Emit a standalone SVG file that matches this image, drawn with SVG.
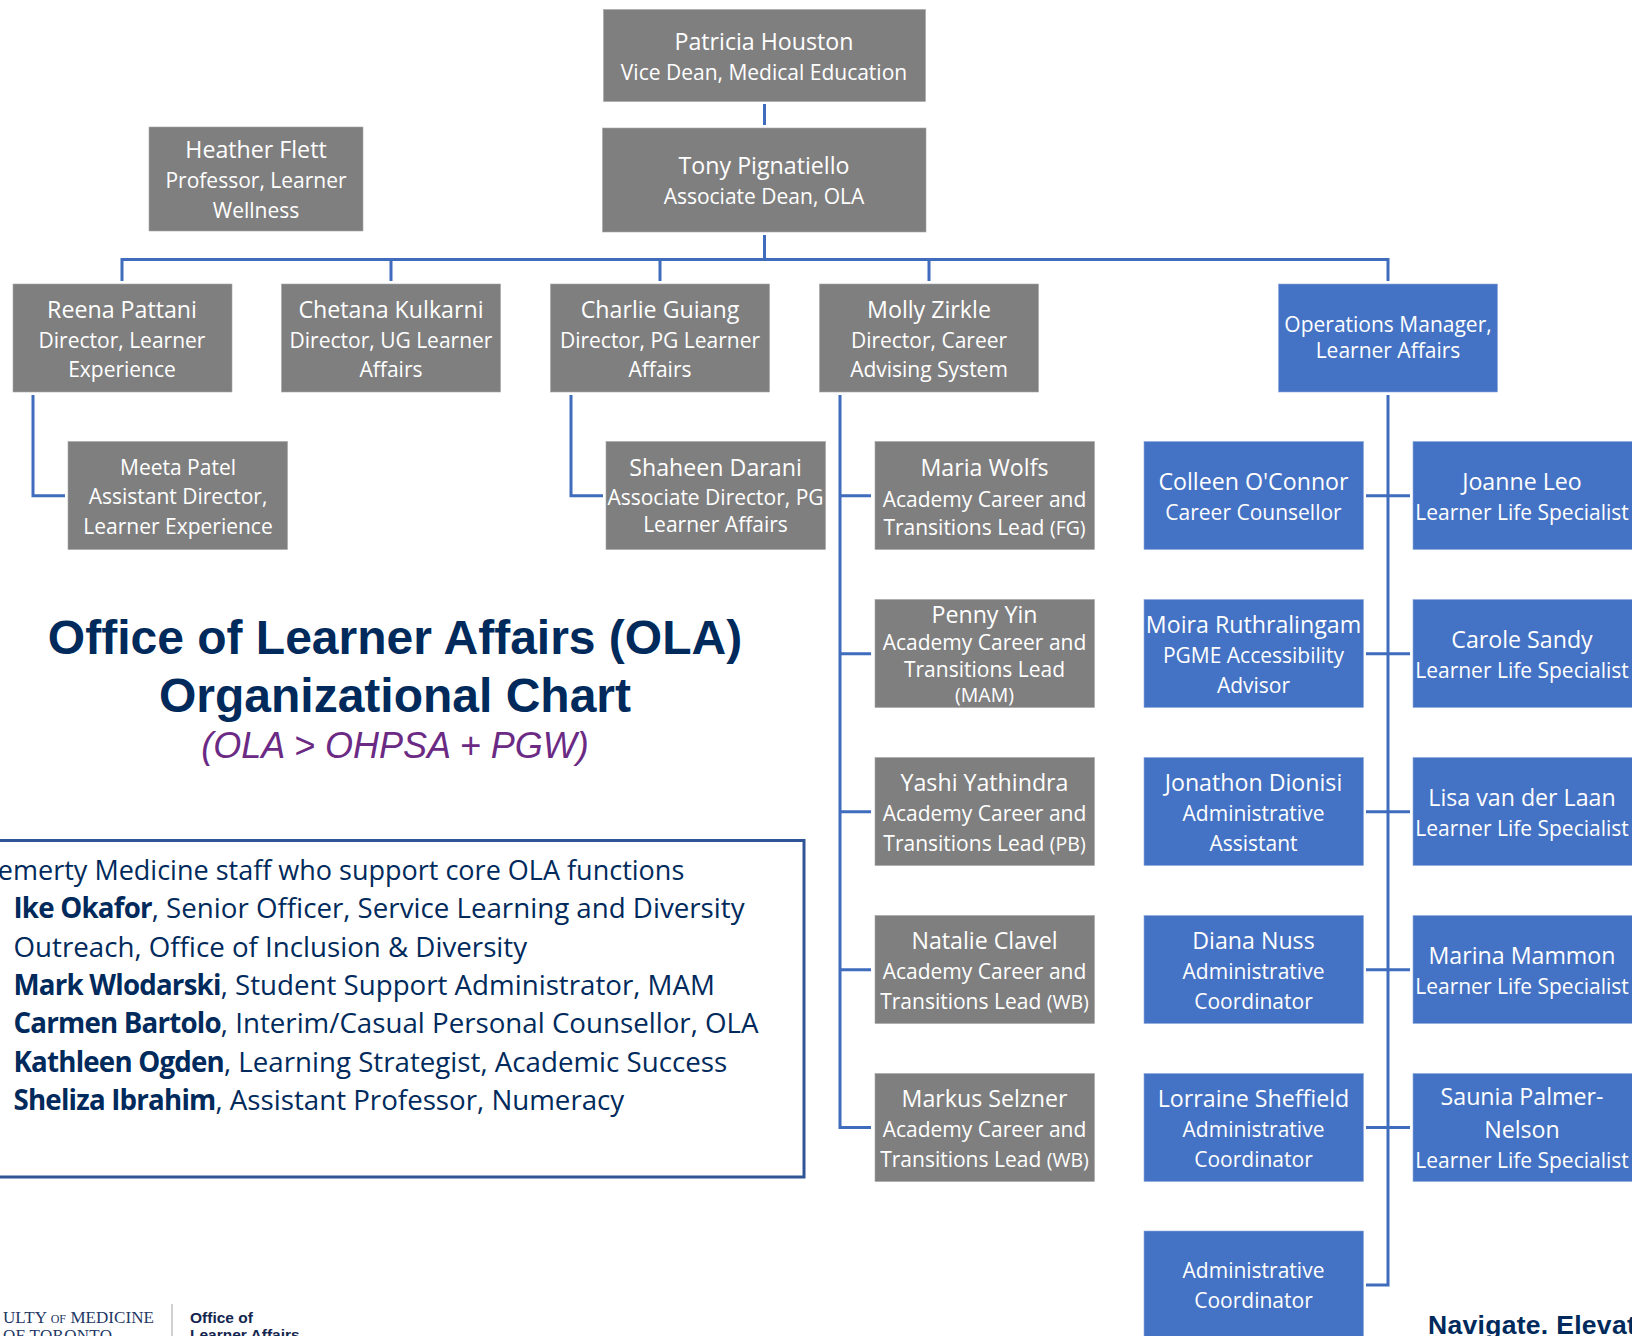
<svg xmlns="http://www.w3.org/2000/svg" width="1632" height="1336" viewBox="0 0 1632 1336">
<style>
text{font-family:"Open Sans","Noto Sans",sans-serif}
.g{fill:#7f7f7f;stroke:#a6a6a6;stroke-width:.6}
.b{fill:#4472c4;stroke:#8faadc;stroke-width:.6}
.n{fill:#fff;font-size:23.2px;text-anchor:middle}
.r{fill:#fff;font-size:21px;text-anchor:middle}
.s{font-size:19.500px}
.c{fill:none;stroke:#3f6cbc;stroke-width:3}
.note{fill:#002a5c;font-size:27.700px}
.note tspan{font-weight:700;letter-spacing:-.8px}
.t{fill:#002a5c;font-family:"Liberation Sans",Arial,sans-serif;font-weight:700;font-size:48px;text-anchor:middle}
</style>
<rect width="1632" height="1336" fill="#fff"/>
<g id="connectors" class="c">
<path class="c" d="M764.5 104V125"/>
<path class="c" d="M764.5 235V259.5M122 281V259.5H1388V281M391 259.5V281M660 259.5V281M929 259.5V281"/>
<path class="c" d="M33 395V495.700H65"/>
<path class="c" d="M571 395V495.700H603"/>
<path class="c" d="M840 395V1127.500H871M840 495.700H871M840 653.700H871M840 811.700H871M840 969.700H871"/>
<path class="c" d="M1388 395V1285H1366M1366 495.700H1410M1366 653.700H1410M1366 811.700H1410M1366 969.700H1410M1366 1127.500H1410"/>
</g>
<g id="patricia"><rect class="g" x="603.500" y="9.500" width="322" height="92"/><text class="n" x="764" y="50">Patricia Houston</text><text class="r" x="764" y="80">Vice Dean, Medical Education</text></g>
<g id="tony"><rect class="g" x="602.500" y="128" width="323.500" height="104"/><text class="n" x="764" y="174">Tony Pignatiello</text><text class="r" x="764" y="204">Associate Dean, OLA</text></g>
<g id="heather"><rect class="g" x="149" y="127" width="214" height="104"/><text class="n" x="256" y="158">Heather Flett</text><text class="r" x="256" y="188">Professor, Learner</text><text class="r" x="256" y="218">Wellness</text></g>
<g id="reena"><rect class="g" x="13" y="284" width="219" height="108"/><text class="n" x="122" y="318">Reena Pattani</text><text class="r" x="122" y="348">Director, Learner</text><text class="r" x="122" y="377">Experience</text></g>
<g id="chetana"><rect class="g" x="281.500" y="284" width="219" height="108"/><text class="n" x="391" y="318">Chetana Kulkarni</text><text class="r" x="391" y="348">Director, UG Learner</text><text class="r" x="391" y="377">Affairs</text></g>
<g id="charlie"><rect class="g" x="550.500" y="284" width="219" height="108"/><text class="n" x="660" y="318">Charlie Guiang</text><text class="r" x="660" y="348">Director, PG Learner</text><text class="r" x="660" y="377">Affairs</text></g>
<g id="molly"><rect class="g" x="819.500" y="284" width="219" height="108"/><text class="n" x="929" y="318">Molly Zirkle</text><text class="r" x="929" y="348">Director, Career</text><text class="r" x="929" y="377">Advising System</text></g>
<g id="ops"><rect class="b" x="1278.500" y="284" width="219" height="108"/><text class="r" x="1388" y="332">Operations Manager,</text><text class="r" x="1388" y="358">Learner Affairs</text></g>
<g id="meeta"><rect class="g" x="68" y="441.500" width="219.500" height="108"/><text class="r" x="178" y="475">Meeta Patel</text><text class="r" x="178" y="504">Assistant Director,</text><text class="r" x="178" y="534">Learner Experience</text></g>
<g id="shaheen"><rect class="g" x="606" y="441.500" width="219.500" height="108"/><text class="n" x="715.500" y="476">Shaheen Darani</text><text class="r" x="715.500" y="505">Associate Director, PG</text><text class="r" x="715.500" y="532">Learner Affairs</text></g>
<g id="maria"><rect class="g" x="875" y="441.500" width="219.500" height="108"/><text class="n" x="984.500" y="476">Maria Wolfs</text><text class="r" x="984.500" y="507">Academy Career and</text><text class="r" x="984.500" y="535">Transitions Lead <tspan class="s">(FG)</tspan></text></g>
<g id="penny"><rect class="g" x="875" y="599.500" width="219.500" height="108"/><text class="n" x="984.500" y="623">Penny Yin</text><text class="r" x="984.500" y="650">Academy Career and</text><text class="r" x="984.500" y="677">Transitions Lead</text><text class="r s" x="984.500" y="702">(MAM)</text></g>
<g id="yashi"><rect class="g" x="875" y="757.500" width="219.500" height="108"/><text class="n" x="984.500" y="791">Yashi Yathindra</text><text class="r" x="984.500" y="821">Academy Career and</text><text class="r" x="984.500" y="851">Transitions Lead <tspan class="s">(PB)</tspan></text></g>
<g id="natalie"><rect class="g" x="875" y="915.500" width="219.500" height="108"/><text class="n" x="984.500" y="949">Natalie Clavel</text><text class="r" x="984.500" y="979">Academy Career and</text><text class="r" x="984.500" y="1009">Transitions Lead <tspan class="s">(WB)</tspan></text></g>
<g id="markus"><rect class="g" x="875" y="1073.500" width="219.500" height="108"/><text class="n" x="984.500" y="1107">Markus Selzner</text><text class="r" x="984.500" y="1137">Academy Career and</text><text class="r" x="984.500" y="1167">Transitions Lead <tspan class="s">(WB)</tspan></text></g>
<g id="colleen"><rect class="b" x="1144" y="441.500" width="219.500" height="108"/><text class="n" x="1253.500" y="490">Colleen O'Connor</text><text class="r" x="1253.500" y="520">Career Counsellor</text></g>
<g id="moira"><rect class="b" x="1144" y="599.500" width="219.500" height="108"/><text class="n" x="1253.500" y="633">Moira Ruthralingam</text><text class="r" x="1253.500" y="663">PGME Accessibility</text><text class="r" x="1253.500" y="693">Advisor</text></g>
<g id="jonathon"><rect class="b" x="1144" y="757.500" width="219.500" height="108"/><text class="n" x="1253.500" y="791">Jonathon Dionisi</text><text class="r" x="1253.500" y="821">Administrative</text><text class="r" x="1253.500" y="851">Assistant</text></g>
<g id="diana"><rect class="b" x="1144" y="915.500" width="219.500" height="108"/><text class="n" x="1253.500" y="949">Diana Nuss</text><text class="r" x="1253.500" y="979">Administrative</text><text class="r" x="1253.500" y="1009">Coordinator</text></g>
<g id="lorraine"><rect class="b" x="1144" y="1073.500" width="219.500" height="108"/><text class="n" x="1253.500" y="1107">Lorraine Sheffield</text><text class="r" x="1253.500" y="1137">Administrative</text><text class="r" x="1253.500" y="1167">Coordinator</text></g>
<g id="admin"><rect class="b" x="1144" y="1231" width="219.500" height="120"/><text class="r" x="1253.500" y="1278">Administrative</text><text class="r" x="1253.500" y="1308">Coordinator</text></g>
<g id="joanne"><rect class="b" x="1413" y="441.500" width="230" height="108"/><text class="n" x="1522" y="490">Joanne Leo</text><text class="r" x="1522" y="520">Learner Life Specialist</text></g>
<g id="carole"><rect class="b" x="1413" y="599.500" width="230" height="108"/><text class="n" x="1522" y="648">Carole Sandy</text><text class="r" x="1522" y="678">Learner Life Specialist</text></g>
<g id="lisa"><rect class="b" x="1413" y="757.500" width="230" height="108"/><text class="n" x="1522" y="806">Lisa van der Laan</text><text class="r" x="1522" y="836">Learner Life Specialist</text></g>
<g id="marina"><rect class="b" x="1413" y="915.500" width="230" height="108"/><text class="n" x="1522" y="964">Marina Mammon</text><text class="r" x="1522" y="994">Learner Life Specialist</text></g>
<g id="saunia"><rect class="b" x="1413" y="1073.500" width="230" height="108"/><text class="n" x="1522" y="1105">Saunia Palmer-</text><text class="n" x="1522" y="1138">Nelson</text><text class="r" x="1522" y="1168">Learner Life Specialist</text></g>
<g id="title"><text class="t" x="395" y="654">Office of Learner Affairs (OLA)</text><text class="t" x="395" y="712">Organizational Chart</text><text x="395" y="758" text-anchor="middle" style="font-family:'Liberation Sans',Arial,sans-serif;font-style:italic;font-size:36px;fill:#6b2a84">(OLA &gt; OHPSA + PGW)</text></g>
<g id="note"><rect x="-20" y="840.500" width="824" height="336.500" fill="none" stroke="#2f5597" stroke-width="3"/>
<text class="note" x="-17" y="880" style="font-size:27px">Temerty Medicine staff who support core OLA functions</text>
<text class="note" x="13.500" y="918"><tspan>Ike Okafor</tspan>, Senior Officer, Service Learning and Diversity</text>
<text class="note" x="13.500" y="957">Outreach, Office of Inclusion &amp; Diversity</text>
<text class="note" x="13.500" y="995"><tspan>Mark Wlodarski</tspan>, Student Support Administrator, MAM</text>
<text class="note" x="13.500" y="1033"><tspan>Carmen Bartolo</tspan>, Interim/Casual Personal Counsellor, OLA</text>
<text class="note" x="13.500" y="1072"><tspan>Kathleen Ogden</tspan>, Learning Strategist, Academic Success</text>
<text class="note" x="13.500" y="1110"><tspan>Sheliza Ibrahim</tspan>, Assistant Professor, Numeracy</text></g>
<g id="logo"><text x="3" y="1323" style="font-family:'Liberation Serif',serif;font-size:17px;fill:#1e3765;letter-spacing:.05px">ULTY <tspan style="font-size:12px">OF</tspan> MEDICINE</text>
<text x="3" y="1341" style="font-family:'Liberation Serif',serif;font-size:17px;fill:#1e3765;letter-spacing:.3px">OF TORONTO</text>
<rect x="171" y="1304" width="2" height="32" fill="#d0d0d0"/>
<text x="190" y="1323" style="font-family:'Liberation Sans',sans-serif;font-weight:700;font-size:15.500px;fill:#14264f">Office of</text>
<text x="190" y="1340" style="font-family:'Liberation Sans',sans-serif;font-weight:700;font-size:15.500px;fill:#14264f">Learner Affairs</text></g>
<g id="tagline"><text x="1428" y="1334" style="font-family:'Liberation Sans',sans-serif;font-weight:700;font-size:26.500px;letter-spacing:.3px;fill:#002a5c">Navigate. Elevate</text></g>
</svg>
